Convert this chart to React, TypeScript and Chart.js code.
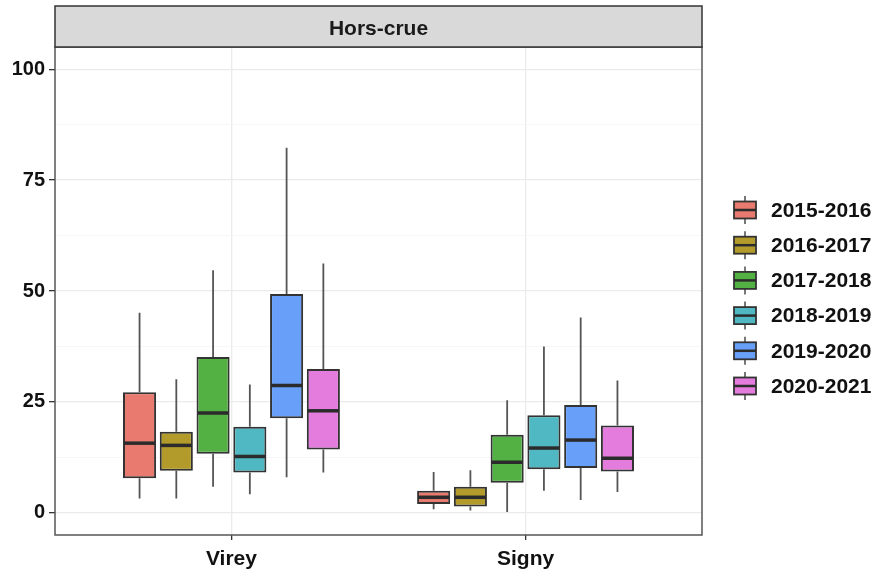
import React, { useEffect, useRef } from 'react';
import { Chart, registerables } from 'chart.js';

Chart.register(...registerables);

const categories = ['Virey', 'Signy'];
const seasons = ['2015-2016', '2016-2017', '2017-2018', '2018-2019', '2019-2020', '2020-2021'];
const seasonColors = ['#E87A6F', '#B29A2B', '#53B144', '#4FB8C3', '#68A0F9', '#E37CDD'];
const stripLabel = 'Hors-crue';

// [min, q1, median, q3, max] for Virey, then Signy
const box2015_2016 = [[3.2, 7.8, 15.7, 27.2, 45.1], [0.8, 2.0, 3.5, 5.0, 9.2]];
const box2016_2017 = [[3.2, 9.5, 15.2, 18.3, 30.1], [0.5, 1.4, 3.5, 5.9, 9.6]];
const box2017_2018 = [[5.9, 13.3, 22.5, 35.1, 54.7], [0.2, 6.8, 11.4, 17.6, 25.4]];
const box2018_2019 = [[4.2, 9.1, 12.7, 19.4, 28.9], [5.0, 9.8, 14.6, 22.0, 37.5]];
const box2019_2020 = [[8.0, 21.3, 28.7, 49.3, 82.3], [2.9, 10.1, 16.4, 24.3, 44.0]];
const box2020_2021 = [[9.1, 14.3, 23.0, 32.4, 56.2], [4.7, 9.3, 12.3, 19.7, 29.8]];
const seriesBoxes = [box2015_2016, box2016_2017, box2017_2018, box2018_2019, box2019_2020, box2020_2021];

const yMajorTicks = [0, 25, 50, 75, 100];
const yMinorTicks = [12.5, 37.5, 62.5, 87.5];
const yMin = -5;
const yMax = 105;
const xMin = 0.4;
const xMax = 2.6;

const FONT = "'Liberation Sans', Arial, sans-serif";

const boxPlugin = {
  id: 'boxParts',
  beforeDatasetsDraw(chart: any) {
    const ctx = chart.ctx;
    const ys = chart.scales.y;
    ctx.save();
    ctx.strokeStyle = '#555555';
    ctx.lineWidth = 1.8;
    seriesBoxes.forEach((boxes, i) => {
      const meta = chart.getDatasetMeta(i);
      meta.data.forEach((el: any, j: number) => {
        const b = boxes[j];
        ctx.beginPath();
        ctx.moveTo(el.x, ys.getPixelForValue(b[0]));
        ctx.lineTo(el.x, ys.getPixelForValue(b[1]));
        ctx.moveTo(el.x, ys.getPixelForValue(b[3]));
        ctx.lineTo(el.x, ys.getPixelForValue(b[4]));
        ctx.stroke();
      });
    });
    ctx.restore();
  },
  afterDatasetsDraw(chart: any) {
    const ctx = chart.ctx;
    const ys = chart.scales.y;
    const area = chart.chartArea;
    ctx.save();
    ctx.strokeStyle = '#2b2b2b';
    ctx.lineWidth = 3.5;
    seriesBoxes.forEach((boxes, i) => {
      const meta = chart.getDatasetMeta(i);
      meta.data.forEach((el: any, j: number) => {
        const y = ys.getPixelForValue(boxes[j][2]);
        ctx.beginPath();
        ctx.moveTo(el.x - el.width / 2 + 1, y);
        ctx.lineTo(el.x + el.width / 2 - 1, y);
        ctx.stroke();
      });
    });
    // panel border
    ctx.strokeStyle = '#555555';
    ctx.lineWidth = 1.5;
    ctx.strokeRect(area.left, area.top, area.right - area.left, area.bottom - area.top);
    // strip
    ctx.fillStyle = '#d9d9d9';
    ctx.fillRect(area.left, 6, area.right - area.left, area.top - 6);
    ctx.strokeStyle = '#333333';
    ctx.strokeRect(area.left, 6, area.right - area.left, area.top - 6);
    ctx.fillStyle = '#1a1a1a';
    ctx.font = `bold 21px ${FONT}`;
    ctx.textAlign = 'center';
    ctx.textBaseline = 'middle';
    ctx.fillText(stripLabel, (area.left + area.right) / 2, 29);
    // legend
    const keyX = 734;
    const keyW = 22;
    const keyH = 17;
    const startY = 210;
    const step = 35.2;
    seasons.forEach((s, i) => {
      const cy = startY + i * step;
      ctx.strokeStyle = '#555555';
      ctx.lineWidth = 1.6;
      ctx.beginPath();
      ctx.moveTo(keyX + keyW / 2, cy - 14);
      ctx.lineTo(keyX + keyW / 2, cy + 14);
      ctx.stroke();
      ctx.fillStyle = seasonColors[i];
      ctx.fillRect(keyX, cy - keyH / 2, keyW, keyH);
      ctx.strokeStyle = '#333333';
      ctx.lineWidth = 1.8;
      ctx.strokeRect(keyX, cy - keyH / 2, keyW, keyH);
      ctx.strokeStyle = '#2b2b2b';
      ctx.lineWidth = 2.5;
      ctx.beginPath();
      ctx.moveTo(keyX, cy);
      ctx.lineTo(keyX + keyW, cy);
      ctx.stroke();
      ctx.fillStyle = '#111111';
      ctx.font = `bold 21px ${FONT}`;
      ctx.textAlign = 'left';
      ctx.textBaseline = 'middle';
      ctx.fillText(s, 771, cy + 1);
    });
    ctx.restore();
  },
};

function App() {
  const ref = useRef<HTMLCanvasElement | null>(null);

  useEffect(() => {
    if (!ref.current) return;
    const datasets = seasons.map((s, i) => ({
      label: s,
      data: categories.map((c, j) => ({ x: j + 1, y: [seriesBoxes[i][j][1], seriesBoxes[i][j][3]] })),
      backgroundColor: seasonColors[i],
      borderColor: '#333333',
      borderWidth: 2,
      borderSkipped: false,
      categoryPercentage: 0.75,
      barPercentage: 0.9,
    }));
    const chart = new Chart(ref.current, {
      type: 'bar',
      data: { datasets },
      plugins: [boxPlugin],
      options: {
        animation: false,
        responsive: false,
        layout: { padding: { top: 47, right: 175, bottom: 0, left: 0 } },
        plugins: { legend: { display: false }, tooltip: { enabled: false } },
        scales: {
          x: {
            type: 'linear',
            min: xMin,
            max: xMax,
            offset: false,
            border: { display: false },
            grid: { offset: false, color: '#ebebeb', lineWidth: 1.3, tickColor: '#333333', tickLength: 5 },
            afterBuildTicks: (scale: any) => {
              scale.ticks = categories.map((c, j) => ({ value: j + 1 }));
            },
            afterFit: (scale: any) => {
              scale.height = 36;
            },
            ticks: {
              padding: 7,
              color: '#111111',
              font: { family: FONT, size: 21, weight: 'bold' },
              callback: (v: any) => categories[Math.round(Number(v)) - 1] ?? '',
            },
          },
          y: {
            type: 'linear',
            min: yMin,
            max: yMax,
            border: { display: false },
            grid: {
              color: (c: any) => (yMajorTicks.includes(c.tick?.value) ? '#ebebeb' : '#f5f5f5'),
              lineWidth: (c: any) => (yMajorTicks.includes(c.tick?.value) ? 1.3 : 0.8),
              tickColor: (c: any) => (yMajorTicks.includes(c.tick?.value) ? '#333333' : 'rgba(0,0,0,0)'),
              tickLength: 6,
            },
            afterBuildTicks: (scale: any) => {
              scale.ticks = [...yMajorTicks, ...yMinorTicks].sort((a, b) => a - b).map((v) => ({ value: v }));
            },
            afterFit: (scale: any) => {
              scale.width = 55;
            },
            ticks: {
              padding: 4,
              color: '#111111',
              font: { family: FONT, size: 20, weight: 'bold' },
              callback: (v: any) => (yMajorTicks.includes(Number(v)) ? String(v) : ''),
            },
          },
        },
      },
    } as any);
    return () => chart.destroy();
  }, []);

  return (
    <div style={{ position: 'fixed', left: 0, top: 0, width: 877, height: 571, background: '#ffffff' }}>
      <canvas ref={ref} width={877} height={571} style={{ width: 877, height: 571, display: 'block' }} />
    </div>
  );
}

export default App;
